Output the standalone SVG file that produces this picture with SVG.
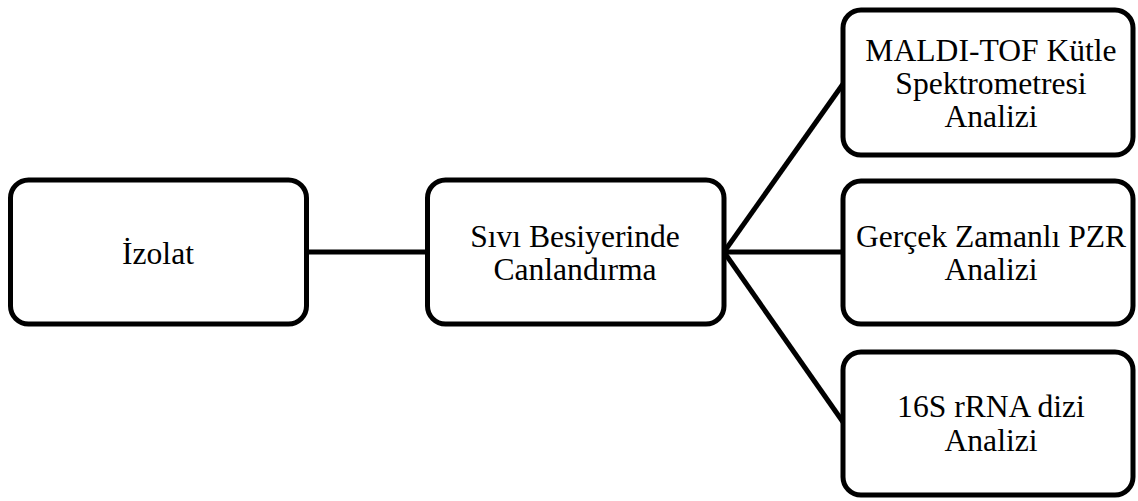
<svg xmlns="http://www.w3.org/2000/svg" width="1138" height="501" viewBox="0 0 1138 501">
<style>
.box{fill:#fff;stroke:#000;stroke-width:5}
.lbl{font-family:"Liberation Serif","Times New Roman",serif;font-size:31.6px;fill:#000;text-anchor:middle}
.con{stroke:#000;stroke-width:5;fill:none}
</style>
<rect width="1138" height="501" fill="#fff"/>
<g id="connectors">
<line class="con" x1="307" y1="252" x2="427" y2="252"/>
<line class="con" x1="724" y1="252" x2="843" y2="84"/>
<line class="con" x1="724" y1="252" x2="843" y2="252"/>
<line class="con" x1="724" y1="252" x2="843" y2="422"/>
</g>
<g id="node-izolat">
<rect class="box" x="10.5" y="180" width="296" height="144" rx="18"/>
<text class="lbl" x="158" y="264">İzolat</text>
</g>
<g id="node-sivi">
<rect class="box" x="427.5" y="180" width="296.5" height="144" rx="18"/>
<text class="lbl" x="575" y="247">Sıvı Besiyerinde</text>
<text class="lbl" x="575" y="280">Canlandırma</text>
</g>
<g id="node-maldi">
<rect class="box" x="843" y="10" width="290" height="145" rx="18"/>
<text class="lbl" x="991" y="61">MALDI-TOF Kütle</text>
<text class="lbl" x="991" y="94">Spektrometresi</text>
<text class="lbl" x="991" y="127">Analizi</text>
</g>
<g id="node-pzr">
<rect class="box" x="843" y="181" width="290" height="143" rx="18"/>
<text class="lbl" x="991" y="247">Gerçek Zamanlı PZR</text>
<text class="lbl" x="991" y="280">Analizi</text>
</g>
<g id="node-16s">
<rect class="box" x="843" y="352" width="290" height="143" rx="18"/>
<text class="lbl" x="991" y="417">16S rRNA dizi</text>
<text class="lbl" x="991" y="451">Analizi</text>
</g>
</svg>
